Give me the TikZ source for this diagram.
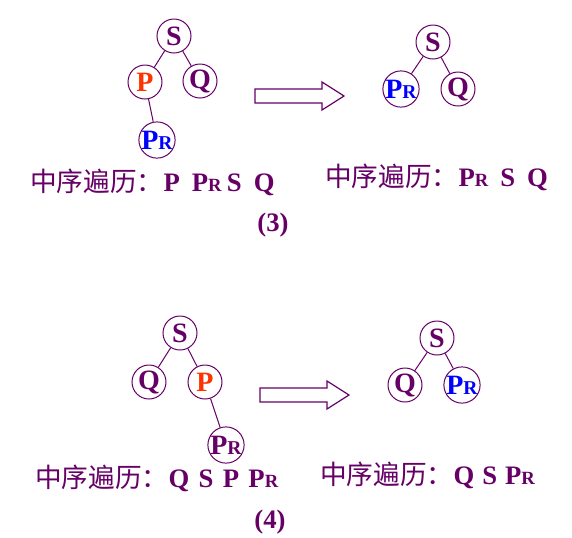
\documentclass[tikz,border=0pt]{standalone}
\usepackage{fontspec}
\setmainfont{Liberation Serif}
\newfontfamily\cjk{Noto Sans CJK SC}
\definecolor{treepurple}{RGB}{102,0,102}
\definecolor{treered}{RGB}{255,51,0}
\definecolor{treeblue}{RGB}{0,0,255}
\newcommand{\PRlbl}{P{\fontsize{0.7em}{0.7em}\selectfont R}}

\begin{document}
\begin{tikzpicture}[x=0.75pt,y=-0.75pt]

%
% Styles
%
\tikzstyle{vertex} = [circle,draw=treepurple,line width=0.75pt,minimum size=25.5pt,inner sep=0pt,
                      font=\fontsize{21}{21}\selectfont\bfseries,text=treepurple]
\tikzstyle{edge}   = [draw=treepurple,line width=0.75pt]
\tikzstyle{bigarrow} = [draw=treepurple,line width=0.9pt]
\tikzstyle{order}  = [anchor=west,inner sep=0pt,text=treepurple,font=\fontsize{20}{20}\selectfont\bfseries]
\tikzstyle{caption} = [inner sep=0pt,text=treepurple,font=\fontsize{20}{20}\selectfont\bfseries]

\useasboundingbox (0,0) rectangle (572,537);

% (3) before
\node[vertex] (s3)  at (174, 36) {S};
\node[vertex] (p3)  at (145, 82) {\textcolor{treered}{P}};
\node[vertex] (q3)  at (200, 81) {Q};
\node[vertex] (pr3) at (157,140) {\textcolor{treeblue}{\PRlbl}};

\draw[edge] (s3) -- (p3);
\draw[edge] (s3) -- (q3);
\draw[edge] (p3) -- (pr3);

\draw[bigarrow] (255,89) -- (322,89) -- (322,82) -- (344,96) -- (322,110) -- (322,103) -- (255,103) -- cycle;

% (3) after
\node[vertex] (s3a)  at (433,42) {S};
\node[vertex] (pr3a) at (401,89) {\textcolor{treeblue}{\PRlbl}};
\node[vertex] (q3a)  at (458,89) {Q};

\draw[edge] (s3a) -- (pr3a);
\draw[edge] (s3a) -- (q3a);

\node[order] (in3)  at (30,182)  {{\cjk\mdseries 中序遍历：}P\hspace{9pt}\PRlbl\hspace{4pt}S\hspace{9pt}Q};
\node[order] (in3a) at (325,177) {{\cjk\mdseries 中序遍历：}\PRlbl\hspace{9pt}S\hspace{9pt}Q};
\node[caption] (cap3) at (273,225) {(3)};

% (4) before
\node[vertex] (s4)  at (180,333) {S};
\node[vertex] (q4)  at (149,382) {Q};
\node[vertex] (p4)  at (205,382) {\textcolor{treered}{P}};
\node[vertex] (pr4) at (226,445) {\PRlbl};

\draw[edge] (s4) -- (q4);
\draw[edge] (s4) -- (p4);
\draw[edge] (p4) -- (pr4);

\draw[bigarrow] (260,388) -- (327,388) -- (327,381) -- (349,395) -- (327,409) -- (327,402) -- (260,402) -- cycle;

% (4) after
\node[vertex] (s4a)  at (437,338) {S};
\node[vertex] (q4a)  at (405,385) {Q};
\node[vertex] (pr4a) at (462,385) {\textcolor{treeblue}{\PRlbl}};

\draw[edge] (s4a) -- (q4a);
\draw[edge] (s4a) -- (pr4a);

\node[order] (in4)  at (35,478)  {{\cjk\mdseries 中序遍历：}Q\hspace{7pt}S\hspace{7pt}P\hspace{7pt}\PRlbl};
\node[order] (in4a) at (320,475) {{\cjk\mdseries 中序遍历：}Q\hspace{6pt}S\hspace{6pt}\PRlbl};
\node[caption] (cap4) at (270,522) {(4)};

\end{tikzpicture}
\end{document}
